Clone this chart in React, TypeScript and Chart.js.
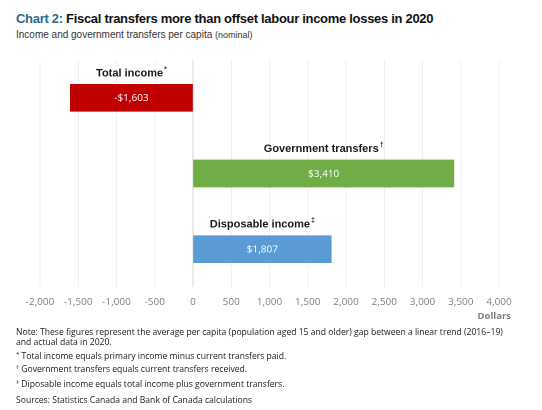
import React, { useEffect, useRef } from "react";
import { Chart, registerables } from "chart.js";

Chart.register(...registerables);

const categories = ["Total income", "Government transfers", "Disposable income"];
const footnoteMarks = ["*", "†", "‡"];
const values = [-1603, 3410, 1807];
const barColors = ["#C00000", "#70AD47", "#5B9BD5"];
const xMin = -2000;
const xMax = 4000;
const xStep = 500;
const axisTitle = "Dollars";
const titleLead = "Chart 2:";
const titleText = "Fiscal transfers more than offset labour income losses in 2020";
const subtitleText = "Income and government transfers per capita";
const subtitleSmall = "(nominal)";
const noteLines = [
  "Note: These figures represent the average per capita (population aged 15 and older) gap between a linear trend (2016–19)",
  "and actual data in 2020.",
];
const footnotes = [
  ["*", "Total income equals primary income minus current transfers paid."],
  ["†", "Government transfers equals current transfers received."],
  ["‡", "Diposable income equals total income plus government transfers."],
];
const sourceText = "Sources: Statistics Canada and Bank of Canada calculations";

const fmt = (v: number) => Math.abs(v).toLocaleString("en-US");
const fmtMoney = (v: number) => (v < 0 ? "-$" : "$") + fmt(v);

const labelPlugin = {
  id: "barLabels",
  afterDatasetsDraw(chart: any) {
    const ctx = chart.ctx;
    const meta = chart.getDatasetMeta(0);
    meta.data.forEach((bar: any, i: number) => {
      const props = bar.getProps(["x", "y", "base", "height"], true);
      const cx = (props.x + props.base) / 2;
      const top = props.y - props.height / 2;
      ctx.save();
      ctx.fillStyle = "#ffffff";
      ctx.font = "10px 'Open Sans'";
      ctx.textAlign = "center";
      ctx.textBaseline = "middle";
      ctx.fillText(fmtMoney(values[i]), cx, props.y + 0.5);
      ctx.font = "bold 11px 'Liberation Sans', Arial";
      const name = categories[i];
      const w = ctx.measureText(name).width;
      ctx.font = "bold 7px 'Liberation Sans', Arial";
      const mw = ctx.measureText(footnoteMarks[i]).width;
      const startX = cx - (w + mw + 1) / 2;
      ctx.textAlign = "left";
      ctx.fillStyle = "#1a1a1a";
      ctx.font = "bold 11px 'Liberation Sans', Arial";
      ctx.fillText(name, startX, top - 11);
      ctx.font = "bold 7px 'Liberation Sans', Arial";
      ctx.fillText(footnoteMarks[i], startX + w + 1, top - 15);
      ctx.restore();
    });
  },
};

export default function App() {
  const ref = useRef<HTMLCanvasElement | null>(null);
  useEffect(() => {
    if (!ref.current) return;
    const chart = new Chart(ref.current, {
      type: "bar",
      data: {
        labels: categories,
        datasets: [
          {
            data: values,
            backgroundColor: barColors,
            borderWidth: 0,
            barThickness: 27,
          },
        ],
      },
      options: {
        indexAxis: "y",
        animation: false,
        responsive: false,
        devicePixelRatio: 2,
        layout: { padding: { left: 40, right: 43, top: 60, bottom: 0 } },
        plugins: { legend: { display: false }, tooltip: { enabled: false } },
        scales: {
          x: {
            min: xMin,
            max: xMax,
            afterFit: (s: any) => {
              s.height = 123;
            },
            ticks: {
              stepSize: xStep,
              color: "#808080",
              font: { family: "'Open Sans'", size: 10 },
              padding: 9,
              callback: (v: any) => (Number(v) < 0 ? "-" : "") + fmt(Number(v)),
            },
            grid: {
              drawTicks: false,
              color: (c: any) => (c.tick && c.tick.value === 0 ? "#d9d9d9" : "#f0f0f0"),
              lineWidth: 1,
            },
            border: { display: false },
          },
          y: { display: false, grid: { display: false } },
        },
      },
      plugins: [labelPlugin],
    } as any);
    return () => chart.destroy();
  }, []);

  const noteStyle: React.CSSProperties = {
    position: "absolute",
    left: 16,
    fontFamily: "'Open Sans'",
    fontSize: 8.6,
    color: "#1a1a1a",
    whiteSpace: "nowrap",
    lineHeight: "10px",
  };
  const noteTops = [327, 337, 351, 364, 379, 395];
  return (
    <div style={{ position: "absolute", left: 0, top: 0, width: 542, height: 410, background: "#fff", overflow: "hidden" }}>
      <div
        style={{
          position: "absolute",
          left: 16,
          top: 11,
          fontFamily: "'Liberation Sans', Arial",
          fontWeight: "bold",
          fontSize: 13,
          letterSpacing: "-0.3px",
          whiteSpace: "nowrap",
          color: "#111",
          lineHeight: "16px",
        }}
      >
        <span style={{ color: "#2C6A8A" }}>{titleLead}</span> {titleText}
      </div>
      <div
        style={{
          position: "absolute",
          left: 16,
          top: 29,
          fontFamily: "'Liberation Sans', Arial",
          fontSize: 10,
          whiteSpace: "nowrap",
          color: "#333",
          lineHeight: "12px",
        }}
      >
        {subtitleText} <span style={{ fontSize: 9 }}>{subtitleSmall}</span>
      </div>
      <canvas ref={ref} width={542} height={410} style={{ position: "absolute", left: 0, top: 0, width: 542, height: 410 }} />
      <div
        style={{
          position: "absolute",
          right: 31,
          top: 310,
          fontFamily: "'Open Sans'",
          fontWeight: "bold",
          fontSize: 9.5,
          color: "#808080",
          lineHeight: "12px",
        }}
      >
        {axisTitle}
      </div>
      <div style={{ ...noteStyle, top: noteTops[0] }}>{noteLines[0]}</div>
      <div style={{ ...noteStyle, top: noteTops[1] }}>{noteLines[1]}</div>
      {footnotes.map((f, i) => (
        <div key={i} style={{ ...noteStyle, top: noteTops[2 + i] }}>
          <sup style={{ fontSize: 6, verticalAlign: "top", lineHeight: "6px" }}>{f[0]}</sup> {f[1]}
        </div>
      ))}
      <div style={{ ...noteStyle, top: noteTops[5] }}>{sourceText}</div>
    </div>
  );
}
